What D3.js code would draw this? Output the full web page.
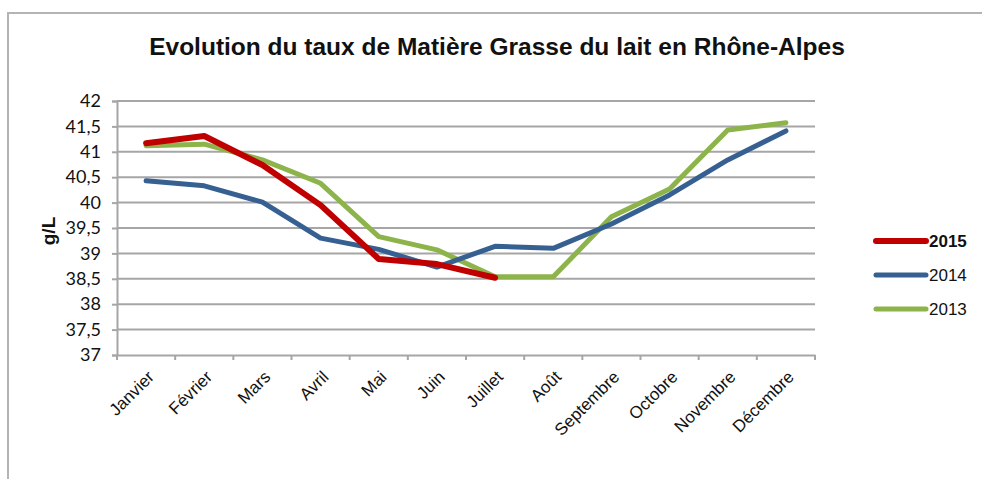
<!DOCTYPE html>
<html>
<head>
<meta charset="utf-8">
<script src="https://cdn.jsdelivr.net/npm/d3@7"></script>
<style>
  body { margin: 0; background: #fff; }
  svg { display: block; }
</style>
</head>
<body>
<div class="chart"></div>
<script>
var svgWidth = 982;
var svgHeight = 479;

// data
var months = ["Janvier", "Février", "Mars", "Avril", "Mai", "Juin", "Juillet",
  "Août", "Septembre", "Octobre", "Novembre", "Décembre"];
var yTicks = [37, 37.5, 38, 38.5, 39, 39.5, 40, 40.5, 41, 41.5, 42];
var values2015 = [41.17, 41.31, 40.74, 39.95, 38.89, 38.79, 38.52];
var values2014 = [40.43, 40.33, 40.01, 39.30, 39.08, 38.73, 39.14, 39.10, 39.58, 40.15, 40.84, 41.41];
var values2013 = [41.12, 41.15, 40.84, 40.38, 39.33, 39.07, 38.54, 38.54, 39.72, 40.27, 41.43, 41.57];
var seriesNames = ["2015", "2014", "2013"];
var seriesColors = ["#c00000", "#376092", "#8cb44a"];

var series = [values2015, values2014, values2013].map(function(vals, i) {
  return { name: seriesNames[i], color: seriesColors[i], values: vals };
});

var margin = { top: 101, left: 117, right: 982 - 815, bottom: 479 - 355 };
var width = svgWidth - margin.left - margin.right;
var height = svgHeight - margin.top - margin.bottom;

var svg = d3.select(".chart")
  .append("svg")
  .attr("width", svgWidth)
  .attr("height", svgHeight);

// outer frame (only top and left visible)
svg.append("path")
  .attr("d", "M8," + svgHeight + "V13H" + svgWidth)
  .attr("fill", "none")
  .attr("stroke", "#b4b4b4")
  .attr("stroke-width", 2);

svg.append("text")
  .attr("x", 497)
  .attr("y", 55)
  .attr("text-anchor", "middle")
  .attr("font-family", "Liberation Sans, Arial, sans-serif")
  .attr("font-weight", "bold")
  .attr("font-size", 24.5)
  .attr("fill", "#111")
  .text("Evolution du taux de Matière Grasse du lait en Rhône-Alpes");

var chartGroup = svg.append("g")
  .attr("transform", `translate(${margin.left}, ${margin.top})`);

var xScale = d3.scaleBand()
  .domain(months)
  .range([0, width]);

var yScale = d3.scaleLinear()
  .domain([37, 42])
  .range([height, 0]);

// gridlines
chartGroup.append("g")
  .selectAll("line")
  .data(yTicks.slice(1))
  .enter()
  .append("line")
  .attr("x1", 0)
  .attr("x2", width)
  .attr("y1", d => yScale(d))
  .attr("y2", d => yScale(d))
  .attr("stroke", "#a6a6a6")
  .attr("stroke-width", 2);

// y axis
var leftAxis = d3.axisLeft(yScale)
  .tickValues(yTicks)
  .tickSize(5)
  .tickPadding(11)
  .tickFormat(d => String(d).replace(".", ","));

var yAxis = chartGroup.append("g").call(leftAxis);
yAxis.select(".domain").attr("stroke", "#a6a6a6").attr("stroke-width", 2);
yAxis.selectAll(".tick line").attr("stroke", "#a6a6a6").attr("stroke-width", 2);
yAxis.selectAll("text")
  .attr("font-family", "Lato, Carlito, sans-serif")
  .attr("font-size", 18)
  .attr("fill", "#111");

// x axis
var bottomAxis = d3.axisBottom(xScale)
  .tickSize(0)
  .tickFormat(d => d);

var xAxis = chartGroup.append("g")
  .attr("transform", `translate(0, ${height})`)
  .call(bottomAxis);
xAxis.select(".domain").attr("stroke", "#a6a6a6").attr("stroke-width", 2);
xAxis.selectAll("text")
  .attr("font-family", "Liberation Sans, Arial, sans-serif")
  .attr("font-size", 17)
  .attr("fill", "#111")
  .attr("text-anchor", "end")
  .attr("dy", null)
  .attr("y", 0)
  .attr("transform", "translate(9, 23) rotate(-45)");

// x ticks at band edges
chartGroup.append("g")
  .selectAll("line")
  .data(d3.range(months.length + 1))
  .enter()
  .append("line")
  .attr("x1", i => i * xScale.step())
  .attr("x2", i => i * xScale.step())
  .attr("y1", height)
  .attr("y2", height + 5)
  .attr("stroke", "#a6a6a6")
  .attr("stroke-width", 2);

// y label
svg.append("text")
  .attr("transform", "translate(55, 231) rotate(-90)")
  .attr("text-anchor", "middle")
  .attr("font-family", "Liberation Sans, Arial, sans-serif")
  .attr("font-weight", "bold")
  .attr("font-size", 19)
  .attr("fill", "#111")
  .text("g/L");

// lines
var line = d3.line()
  .x((d, i) => xScale(months[i]) + xScale.bandwidth() / 2)
  .y(d => yScale(d));

chartGroup.selectAll(".series")
  .data(series.slice().reverse())
  .enter()
  .append("path")
  .attr("d", d => line(d.values))
  .attr("fill", "none")
  .attr("stroke", d => d.color)
  .attr("stroke-width", d => d.name === "2015" ? 6 : 5)
  .attr("stroke-linejoin", "round")
  .attr("stroke-linecap", "round");

// legend
var legend = svg.append("g")
  .attr("transform", "translate(876, 241)");

var legendItems = legend.selectAll("g")
  .data(series)
  .enter()
  .append("g")
  .attr("transform", (d, i) => `translate(0, ${i * 34})`);

legendItems.append("line")
  .attr("x1", 0)
  .attr("x2", 50)
  .attr("stroke", d => d.color)
  .attr("stroke-width", d => d.name === "2015" ? 6 : 5)
  .attr("stroke-linecap", "round");

legendItems.append("text")
  .attr("x", 53)
  .attr("y", 6)
  .attr("font-family", "Liberation Sans, Arial, sans-serif")
  .attr("font-weight", d => d.name === "2015" ? "bold" : "normal")
  .attr("font-size", 17)
  .attr("fill", "#111")
  .text(d => d.name);
</script>
</body>
</html>
